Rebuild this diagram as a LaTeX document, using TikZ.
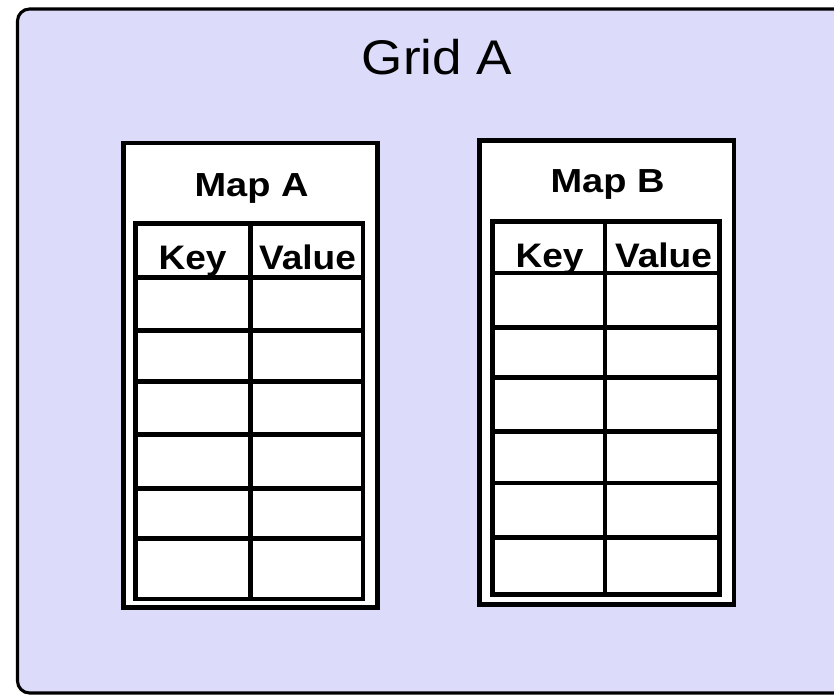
\documentclass[tikz,border=0pt]{standalone}
\usepackage{fontspec}
\setmainfont{Liberation Sans}[FakeStretch=1.09]
\newfontfamily\widebold{Liberation Sans}[FakeStretch=1.14]
\definecolor{gridfill}{RGB}{220,220,250}
\tikzset{
  gridframe/.style={draw=black, line width=2.3pt, fill=gridfill, rounded corners=9pt},
  mapframe/.style={draw=black, line width=3.4pt, fill=white},
  tableline/.style={draw=black, line width=3.6pt},
  gridtitle/.style={anchor=base, inner sep=0pt, font=\fontsize{36.5pt}{40pt}\selectfont},
  maptitle/.style={anchor=base, inner sep=0pt, font=\widebold\fontsize{25pt}{28pt}\selectfont\bfseries},
  colhead/.style={anchor=base, inner sep=0pt, font=\fontsize{25.5pt}{28pt}\selectfont\bfseries},
}
\begin{document}
\begin{tikzpicture}[x=0.75pt, y=-0.75pt]
\useasboundingbox (0,0) rectangle (834,695);
\clip (0,0) rectangle (834,695);

% outer grid container (its right side runs past the page edge)
\draw[gridframe] (17.5,9) rectangle (860,693);
\node[gridtitle] (gridA) at (437,75) {Grid A};

% ---- Map A ----
\draw[mapframe] (123.5,143) rectangle (377.5,607.5);
\node[maptitle] (mapA) at (251.5,197) {Map A};
\fill[white] (135.5,223.5) rectangle (363,599);
\node[colhead] (keyA) at (192.5,269) {Key};
\node[colhead] (valA) at (307.5,269) {Value};
\draw[tableline] (135.5,223.5) rectangle (363,599);
\draw[tableline] (250.5,223.5) -- (250.5,599);
\foreach \yy in {277.5,330.5,381.5,434.5,488.5,538.5}
  \draw[tableline] (135.5,\yy) -- (363,\yy);

% ---- Map B ----
\draw[mapframe] (479.5,140.5) rectangle (734,604.5);
\node[maptitle] (mapB) at (607.5,193) {Map B};
\fill[white] (492.5,221.5) rectangle (719.5,594.5);
\node[colhead] (keyB) at (549.5,267) {Key};
\node[colhead] (valB) at (663.5,267) {Value};
\draw[tableline] (492.5,221.5) rectangle (719.5,594.5);
\draw[tableline] (605,221.5) -- (605,594.5);
\foreach \yy in {273,327.5,377.5,431.5,483,537.5}
  \draw[tableline] (492.5,\yy) -- (719.5,\yy);
\end{tikzpicture}
\end{document}
